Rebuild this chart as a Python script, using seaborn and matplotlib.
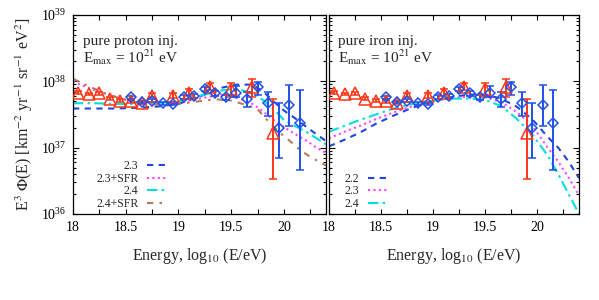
import numpy as np
import pandas as pd
import matplotlib
matplotlib.use("Agg")
import matplotlib.pyplot as plt
import seaborn as sns
from matplotlib.ticker import LogLocator, MultipleLocator, FuncFormatter, NullFormatter

# ---------------- data (log10 of E^3 J in km^-2 yr^-1 sr^-1 eV^2) ----------------
# red triangles
tri_energy = [18.05, 18.15, 18.25, 18.35, 18.45, 18.55, 18.65, 18.75, 18.95, 19.1, 19.3, 19.5, 19.7, 19.9]
tri_logflux = [37.83, 37.81, 37.82, 37.74, 37.71, 37.70, 37.68, 37.78, 37.78, 37.82, 37.92, 37.88, 37.92, 37.22]
tri_err_up = [0.02, 0.02, 0.02, 0.02, 0.02, 0.02, 0.02, 0.05, 0.05, 0.06, 0.05, 0.09, 0.12, 0.51]
tri_err_dn = [0.02, 0.02, 0.02, 0.02, 0.02, 0.02, 0.02, 0.02, 0.03, 0.04, 0.05, 0.11, 0.15, 0.70]

# blue diamonds
dia_energy = [18.55, 18.65, 18.75, 18.85, 18.95, 19.05, 19.15, 19.25, 19.35, 19.45, 19.55, 19.65, 19.75, 19.85, 19.95, 20.05, 20.15]
dia_logflux = [37.76, 37.69, 37.71, 37.67, 37.66, 37.76, 37.78, 37.88, 37.82, 37.76, 37.83, 37.74, 37.91, 37.67, 37.29, 37.65, 37.37]
dia_err_up = [0.02, 0.02, 0.02, 0.02, 0.02, 0.03, 0.03, 0.03, 0.04, 0.04, 0.10, 0.10, 0.085, 0.17, 0.38, 0.29, 0.50]
dia_err_dn = [0.02, 0.02, 0.02, 0.02, 0.02, 0.03, 0.03, 0.03, 0.04, 0.04, 0.06, 0.12, 0.12, 0.20, 0.45, 0.33, 0.71]

# proton panel models
p_energy_a = [18.0, 18.2, 18.4, 18.6, 18.8, 19.0, 19.2, 19.4, 19.55, 19.7, 19.8, 19.9, 20.0, 20.1, 20.2, 20.3, 20.4]
p_23 = [37.59, 37.59, 37.59, 37.60, 37.62, 37.66, 37.77, 37.90, 37.95, 37.95, 37.85, 37.70, 37.56, 37.45, 37.33, 37.21, 37.10]
p_24 = [37.67, 37.67, 37.66, 37.66, 37.67, 37.70, 37.78, 37.86, 37.89, 37.82, 37.72, 37.58, 37.42, 37.33, 37.25, 37.15, 37.05]
p_energy_b = [18.0, 18.1, 18.2, 18.3, 18.45, 18.6, 18.8, 19.0, 19.2, 19.4, 19.55, 19.7, 19.8, 19.9, 20.0, 20.1, 20.2, 20.3, 20.4]
p_23sfr = [38.00, 37.93, 37.87, 37.82, 37.74, 37.68, 37.66, 37.68, 37.74, 37.80, 37.76, 37.66, 37.55, 37.42, 37.31, 37.21, 37.12, 37.01, 36.92]
p_energy_c = [18.0, 18.1, 18.2, 18.3, 18.45, 18.6, 18.8, 19.0, 19.2, 19.35, 19.5, 19.65, 19.75, 19.85, 19.95, 20.05, 20.15, 20.25, 20.4]
p_24sfr = [38.04, 37.96, 37.89, 37.82, 37.74, 37.68, 37.65, 37.66, 37.70, 37.73, 37.71, 37.64, 37.58, 37.40, 37.24, 37.11, 36.97, 36.86, 36.73]

# iron panel models
fe_energy = [18.0, 18.15, 18.3, 18.45, 18.6, 18.75, 18.9, 19.05, 19.2, 19.35, 19.5, 19.65, 19.8, 19.95, 20.1, 20.2, 20.3, 20.4]
fe_22 = [37.02, 37.12, 37.23, 37.36, 37.47, 37.57, 37.66, 37.72, 37.77, 37.80, 37.80, 37.74, 37.62, 37.43, 37.16, 37.00, 36.79, 36.54]
fe_23 = [37.14, 37.24, 37.33, 37.43, 37.52, 37.60, 37.67, 37.72, 37.75, 37.77, 37.76, 37.69, 37.54, 37.33, 37.00, 36.79, 36.55, 36.28]
fe_24 = [37.24, 37.33, 37.42, 37.50, 37.58, 37.64, 37.69, 37.72, 37.74, 37.74, 37.72, 37.63, 37.44, 37.20, 36.88, 36.60, 36.30, 36.00]

x_ticks = [18, 18.5, 19, 19.5, 20]

# ---------------- style ----------------
sns.set_theme(style="ticks")
plt.rcParams["font.family"] = ["Liberation Serif", "DejaVu Serif"]
plt.rcParams["mathtext.fontset"] = "stix"
plt.rcParams["axes.linewidth"] = 0.9

C_BLUE = "#2244e0"
C_MAG = "#ff44ff"
C_CYAN = "#00dede"
C_BROWN = "#b87a55"
C_RED = "#ff3515"
C_DIA = "#1f50e8"

LS_DASH = (0, (3, 2.6))
LS_DOT = (0, (1, 1.6))
LS_DASHDOT = (0, (5, 2, 1.2, 2))
LS_DASHDOT2 = (0, (3, 3, 1.2, 3))

fig = plt.figure(figsize=(5.99, 3.0), dpi=100)
ax1 = fig.add_axes([0.1219, 0.2867, 0.4225, 0.6633])
ax2 = fig.add_axes([0.5492, 0.2867, 0.4175, 0.6633])


def curve(ax, e, lg, color, ls, label):
    df = pd.DataFrame({"E": e, "F": np.power(10.0, lg)})
    sns.lineplot(data=df, x="E", y="F", color=color, linestyle=ls, lw=1.5,
                 ax=ax, label=label, sort=False, estimator=None, errorbar=None)


def data_points(ax):
    t = np.power(10.0, np.array(tri_logflux))
    tl = t - np.power(10.0, np.array(tri_logflux) - np.array(tri_err_dn))
    tu = np.power(10.0, np.array(tri_logflux) + np.array(tri_err_up)) - t
    ax.errorbar(tri_energy, t, yerr=[tl, tu], fmt="^", ms=8.5, mfc="none",
                mec=C_RED, mew=1.1, ecolor=C_RED, elinewidth=1.4, capsize=3,
                capthick=1.2, label="_nolegend_", zorder=4)
    d = np.power(10.0, np.array(dia_logflux))
    dl = d - np.power(10.0, np.array(dia_logflux) - np.array(dia_err_dn))
    du = np.power(10.0, np.array(dia_logflux) + np.array(dia_err_up)) - d
    ax.errorbar(dia_energy, d, yerr=[dl, du], fmt="D", ms=5, mfc="none",
                mec=C_DIA, mew=1.1, ecolor=C_DIA, elinewidth=1.4, capsize=3,
                capthick=1.2, label="_nolegend_", zorder=4)


# proton panel
curve(ax1, p_energy_a, p_23, C_BLUE, LS_DASH, "2.3")
curve(ax1, p_energy_b, p_23sfr, C_MAG, LS_DOT, "2.3+SFR")
curve(ax1, p_energy_a, p_24, C_CYAN, LS_DASHDOT, "2.4")
curve(ax1, p_energy_c, p_24sfr, C_BROWN, LS_DASHDOT2, "2.4+SFR")
data_points(ax1)

# iron panel
curve(ax2, fe_energy, fe_22, C_BLUE, LS_DASH, "2.2")
curve(ax2, fe_energy, fe_23, C_MAG, LS_DOT, "2.3")
curve(ax2, fe_energy, fe_24, C_CYAN, LS_DASHDOT, "2.4")
data_points(ax2)

for ax in (ax1, ax2):
    ax.set_yscale("log")
    ax.set_xlim(18, 20.4)
    ax.set_ylim(1e36, 1e39)
    ax.xaxis.set_major_locator(plt.FixedLocator(x_ticks))
    ax.xaxis.set_minor_locator(MultipleLocator(0.25))
    ax.xaxis.set_major_formatter(FuncFormatter(lambda v, p: "%g" % v))
    ax.yaxis.set_major_locator(LogLocator(base=10, numticks=10))
    ax.yaxis.set_minor_locator(LogLocator(base=10, subs=np.arange(2, 10), numticks=20))
    ax.yaxis.set_minor_formatter(NullFormatter())
    ax.tick_params(which="both", direction="in", top=True, right=True,
                   colors="black", width=0.8, labelsize=10, pad=5)
    ax.tick_params(axis="x", which="both", length=3.5)
    ax.tick_params(axis="y", which="major", length=4.5)
    ax.tick_params(axis="y", which="minor", length=2.2)
    ax.set_xlabel(r"Energy, log$_{10}$ (E/eV)", fontsize=11.5, labelpad=9)
    for s in ax.spines.values():
        s.set_color("black")

ax1.set_ylabel(r"E$^3$ $\Phi$(E) [km$^{-2}$ yr$^{-1}$ sr$^{-1}$ eV$^2$]", fontsize=11.5, labelpad=4)
ax2.set_ylabel("")
ax2.tick_params(axis="y", which="both", labelleft=False)

ax1.text(0.04, 0.849, "pure proton inj.", transform=ax1.transAxes, fontsize=11, va="baseline")
ax1.text(0.04, 0.757, r"E$_{\rm max}$ = 10$^{21}$ eV", transform=ax1.transAxes, fontsize=11, va="baseline")
ax2.text(0.036, 0.849, "pure iron inj.", transform=ax2.transAxes, fontsize=11, va="baseline")
ax2.text(0.036, 0.757, r"E$_{\rm max}$ = 10$^{21}$ eV", transform=ax2.transAxes, fontsize=11, va="baseline")

for ax, anchor in ((ax1, (0.37, 0.02)), (ax2, (0.235, 0.02))):
    ax.legend(loc="lower right", bbox_to_anchor=anchor, markerfirst=False, frameon=False,
              fontsize=8.5, handlelength=1.7, labelspacing=0.05, borderpad=0.0,
              borderaxespad=0.0, handletextpad=0.7)

fig.savefig("out.png", dpi=100)
